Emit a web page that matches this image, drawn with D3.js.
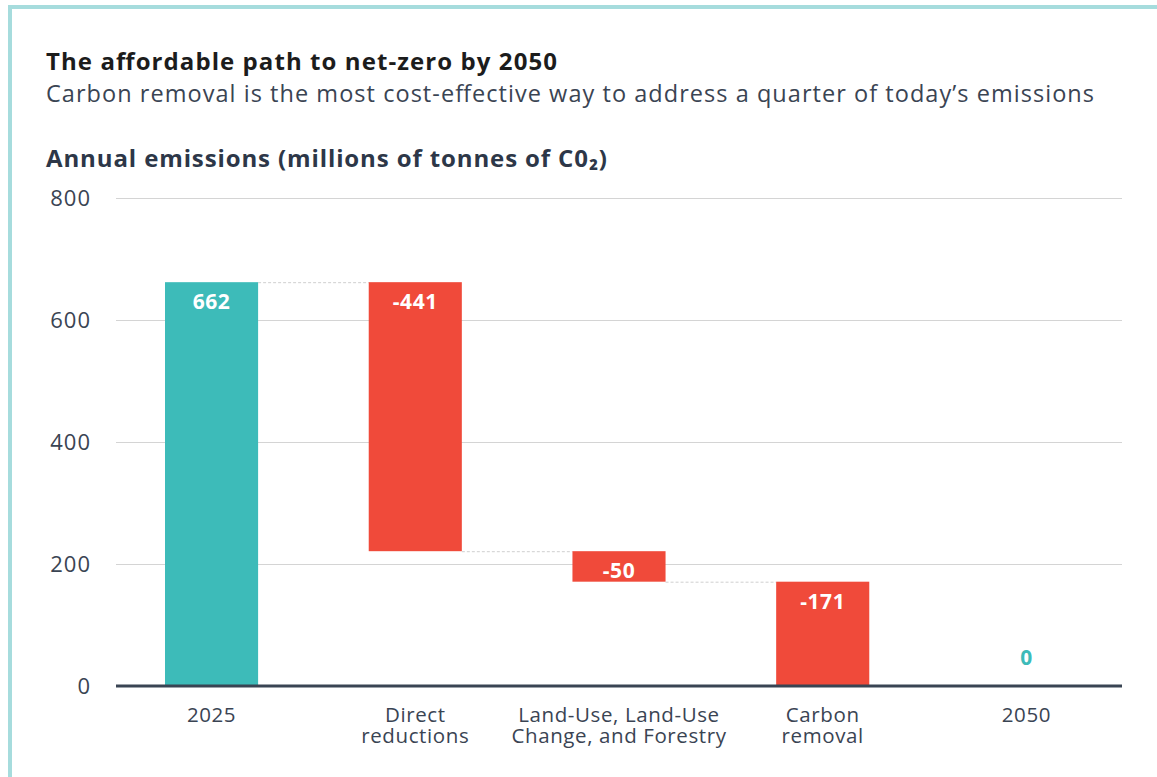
<!DOCTYPE html>
<html>
<head>
<meta charset="utf-8">
<script src="https://cdn.jsdelivr.net/npm/d3@7"></script>
<style>
  html, body { margin: 0; padding: 0; background: #fff; }
  svg { display: block; }
</style>
</head>
<body>
<svg id="chart" width="1157" height="777"></svg>
<script>
// Waterfall steps from 2025 emissions to net-zero in 2050
const categories = ["2025", "Direct reductions", "Land-Use, Land-Use Change, and Forestry", "Carbon removal", "2050"];
const categoryLines = [["2025"], ["Direct", "reductions"], ["Land-Use, Land-Use", "Change, and Forestry"], ["Carbon", "removal"], ["2050"]];
const changes = [662, -441, -50, -171, 0];
const kinds = ["total", "delta", "delta", "delta", "total"];
const yTicks = [0, 200, 400, 600, 800];

const W = 1157, H = 777;
const svg = d3.select("#chart");
const font = "'Open Sans', sans-serif";

// card border
svg.append("rect")
  .attr("x", 10).attr("y", 7).attr("width", W + 20).attr("height", H + 20)
  .attr("fill", "none").attr("stroke", "#a6dcdd").attr("stroke-width", 4);

// headings
svg.append("text").attr("x", 46).attr("y", 70)
  .attr("font-family", font).attr("font-weight", 700).attr("font-size", 24)
  .attr("textLength", 511).attr("lengthAdjust", "spacing")
  .attr("fill", "#1c1c1c").text("The affordable path to net-zero by 2050");
svg.append("text").attr("x", 46).attr("y", 102)
  .attr("font-family", font).attr("font-size", 23.5)
  .attr("textLength", 1048).attr("lengthAdjust", "spacing")
  .attr("fill", "#3a4453").text("Carbon removal is the most cost-effective way to address a quarter of today\u2019s emissions");
svg.append("text").attr("x", 46).attr("y", 167)
  .attr("font-family", font).attr("font-weight", 700).attr("font-size", 24)
  .attr("textLength", 561).attr("lengthAdjust", "spacing")
  .attr("fill", "#2d3748").text("Annual emissions (millions of tonnes of C0\u2082)");

// running totals for each step
let running = 0;
const bars = categories.map((c, i) => {
  let start, end;
  if (kinds[i] === "total") { start = 0; end = changes[i]; running = changes[i]; }
  else { start = running; end = running + changes[i]; running = end; }
  return { cat: c, lines: categoryLines[i], value: changes[i], kind: kinds[i], lo: Math.min(start, end), hi: Math.max(start, end), start, end };
});

const plotLeft = 116, plotRight = 1122;
const y = d3.scaleLinear().domain([0, 800]).range([686, 198]);
const x = d3.scaleBand().domain(categories).range([110, 1128]).paddingInner(0.543).paddingOuter(0.27);

// gridlines + y labels
const yAxis = d3.axisLeft(y).tickValues(yTicks).tickSize(-(plotRight - plotLeft)).tickPadding(25);
const gy = svg.append("g").attr("transform", `translate(${plotLeft},0)`).call(yAxis);
gy.select(".domain").remove();
gy.selectAll(".tick line").attr("stroke", "#d4d4d4").attr("stroke-width", 1);
gy.selectAll(".tick text").attr("font-family", font).attr("font-size", 22)
  .attr("letter-spacing", 1).attr("fill", "#3a4453");

// connectors between consecutive bars
for (let i = 0; i < bars.length - 1; i++) {
  const level = bars[i].end;
  svg.append("line")
    .attr("x1", x(bars[i].cat) + x.bandwidth()).attr("x2", x(bars[i + 1].cat))
    .attr("y1", y(level) + 0.5).attr("y2", y(level) + 0.5)
    .attr("stroke", "#cfcfcf").attr("stroke-width", 1).attr("stroke-dasharray", "3,2");
}

// bars
svg.append("g").selectAll("rect").data(bars.filter(d => d.hi > d.lo)).join("rect")
  .attr("x", d => x(d.cat)).attr("width", x.bandwidth())
  .attr("y", d => y(d.hi)).attr("height", d => y(d.lo) - y(d.hi))
  .attr("fill", d => d.kind === "total" ? "#3dbbb9" : "#f04a3a");

// value labels
svg.append("g").selectAll("text").data(bars).join("text")
  .attr("x", d => x(d.cat) + x.bandwidth() / 2)
  .attr("y", d => d.hi > d.lo ? y(d.hi) + 27 : y(d.hi) - 21)
  .attr("text-anchor", "middle")
  .attr("font-family", font).attr("font-weight", 700).attr("font-size", 21)
  .attr("letter-spacing", 0.6)
  .attr("fill", d => d.hi > d.lo ? "#ffffff" : "#3dbbb9")
  .text(d => d.value);

// baseline
svg.append("line").attr("x1", plotLeft).attr("x2", plotRight)
  .attr("y1", y(0)).attr("y2", y(0))
  .attr("stroke", "#394453").attr("stroke-width", 3);

// category labels, one text per line
const lineRows = bars.flatMap(d => d.lines.map((t, i) => ({ cat: d.cat, t, i })));
svg.append("g").selectAll("text").data(lineRows).join("text")
  .attr("x", d => x(d.cat) + x.bandwidth() / 2)
  .attr("y", d => 722 + d.i * 21)
  .attr("text-anchor", "middle")
  .attr("font-family", font).attr("font-size", 20.5).attr("letter-spacing", 0.6)
  .attr("fill", "#3a4453")
  .text(d => d.t);
</script>
</body>
</html>
